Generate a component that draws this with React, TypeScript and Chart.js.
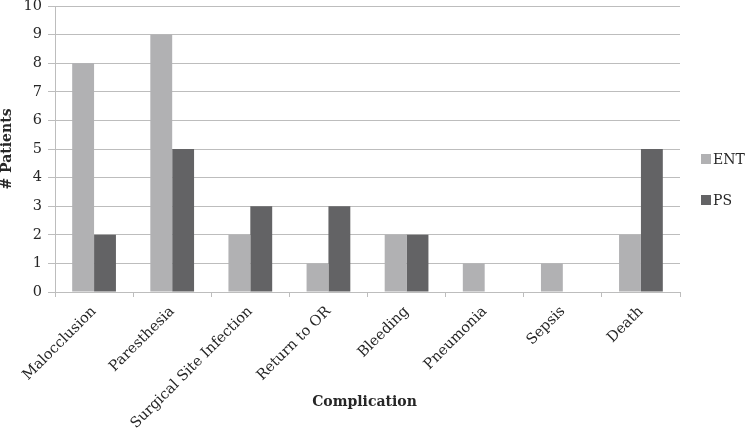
import React, { useEffect, useRef } from 'react';
import { Chart, registerables } from 'chart.js';

Chart.register(...registerables);

const categories = [
  'Malocclusion',
  'Paresthesia',
  'Surgical Site Infection',
  'Return to OR',
  'Bleeding',
  'Pneumonia',
  'Sepsis',
  'Death',
];
const seriesNames = ['ENT', 'PS'];
const entValues = [8, 9, 2, 1, 2, 1, 1, 2];
const psValues = [2, 5, 3, 3, 2, 0, 0, 5];
const yMin = 0;
const yMax = 10;
const yStep = 1;
const xTitle = 'Complication';
const yTitle = '# Patients';

const ENT_COLOR = '#b1b1b3';
const PS_COLOR = '#636365';
const GRID = '#bdbdbd';
const TEXT = '#262626';
const FONT = "'DejaVu Serif', serif";

const overlayPlugin = {
  id: 'overlay',
  afterDraw(chart: any) {
    const { ctx, chartArea } = chart;
    ctx.save();
    // x-axis title
    ctx.fillStyle = TEXT;
    ctx.font = `bold 14px ${FONT}`;
    ctx.textAlign = 'center';
    ctx.textBaseline = 'middle';
    ctx.fillText(xTitle, (chartArea.left + chartArea.right) / 2 - 3, 402);
    // legend
    const colors = [ENT_COLOR, PS_COLOR];
    const ys = [159, 200];
    ctx.font = `14px ${FONT}`;
    ctx.textAlign = 'left';
    seriesNames.forEach((name, i) => {
      ctx.fillStyle = colors[i];
      ctx.fillRect(chartArea.right + 21, ys[i] - 5, 10, 10);
      ctx.fillStyle = TEXT;
      ctx.fillText(name, chartArea.right + 33, ys[i] + 1);
    });
    ctx.restore();
  },
};

export default function App() {
  const ref = useRef<HTMLCanvasElement | null>(null);
  useEffect(() => {
    if (!ref.current) return;
    const chart = new Chart(ref.current, {
      type: 'bar',
      data: {
        labels: categories,
        datasets: [
          {
            label: seriesNames[0],
            data: entValues,
            backgroundColor: ENT_COLOR,
            categoryPercentage: 0.56,
            barPercentage: 1,
          },
          {
            label: seriesNames[1],
            data: psValues,
            backgroundColor: PS_COLOR,
            categoryPercentage: 0.56,
            barPercentage: 1,
          },
        ],
      },
      options: {
        responsive: false,
        animation: false,
        layout: { padding: { top: 6, right: 67, left: 0, bottom: 0 } },
        plugins: {
          legend: { display: false },
          tooltip: { enabled: false },
        },
        scales: {
          x: {
            grid: {
              offset: true,
              drawOnChartArea: false,
              drawTicks: true,
              tickLength: 5,
              color: GRID,
            },
            border: { color: GRID },
            ticks: {
              maxRotation: 45,
              minRotation: 45,
              autoSkip: false,
              color: TEXT,
              font: { family: FONT, size: 14.5 },
              padding: 6,
            },
            afterFit(scale: any) {
              scale.height = 138;
              scale.paddingLeft = 0;
              scale.paddingRight = 0;
            },
          },
          y: {
            min: yMin,
            max: yMax,
            ticks: {
              stepSize: yStep,
              color: TEXT,
              font: { family: FONT, size: 14.5 },
              padding: 6,
            },
            grid: { color: GRID, tickLength: 7 },
            border: { color: GRID },
            title: {
              display: true,
              text: yTitle,
              color: TEXT,
              font: { family: FONT, size: 14, weight: 'bold', lineHeight: 1 },
              padding: { top: 0, bottom: 0 },
            },
            afterFit(scale: any) {
              scale.width = 55;
              scale.paddingTop = 0;
              scale.paddingBottom = 0;
            },
          },
        },
      },
      plugins: [overlayPlugin],
    });
    return () => chart.destroy();
  }, []);
  return (
    <div style={{ position: 'absolute', left: 0, top: 0, width: 747, height: 430, background: '#fff' }}>
      <canvas ref={ref} width={747} height={430} />
    </div>
  );
}
